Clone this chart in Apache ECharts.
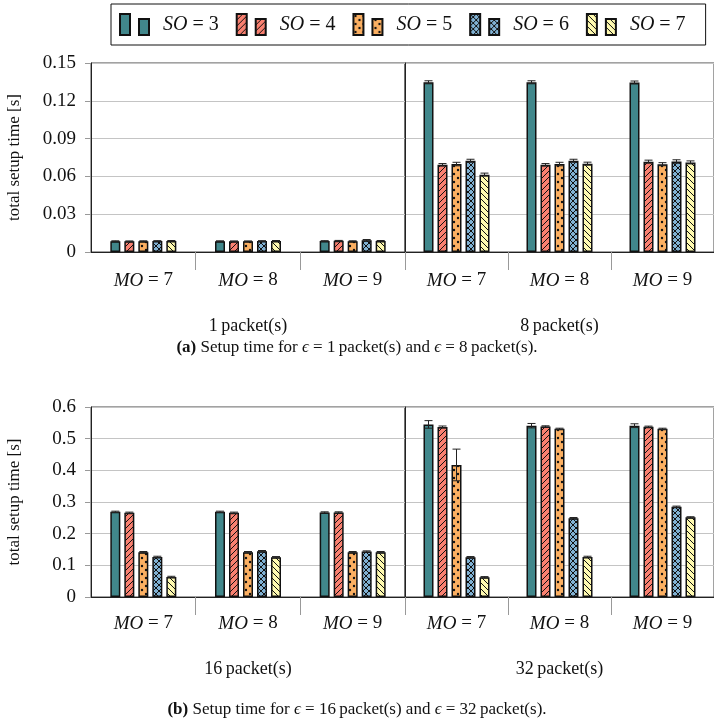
<!DOCTYPE html>
<html>
<head>
<meta charset="utf-8">
<script src="https://cdn.jsdelivr.net/npm/echarts@6/dist/echarts.min.js"></script>
<style>
  html, body { margin: 0; padding: 0; background: #fff; }
  #chart { width: 714px; height: 724px; }
</style>
</head>
<body>
<div id="chart"></div>
<script>
// categories
const moLabels = ['MO = 7', 'MO = 8', 'MO = 9']
const soNames = ['SO = 3', 'SO = 4', 'SO = 5', 'SO = 6', 'SO = 7']
const packetLabels = ['1\u2009packet(s)', '8\u2009packet(s)', '16\u2009packet(s)', '32\u2009packet(s)']

// setup time [s], one row per SO (3..7), columns MO = 7, 8, 9
const setup1 = [
  [0.0086, 0.0086, 0.0087],
  [0.0085, 0.0085, 0.0089],
  [0.0086, 0.0085, 0.0086],
  [0.0087, 0.0087, 0.0093],
  [0.0088, 0.0088, 0.0088]
]
const setup8 = [
  [0.1347, 0.1347, 0.1345],
  [0.0692, 0.0692, 0.0717],
  [0.0698, 0.0698, 0.0697],
  [0.0724, 0.0724, 0.0718],
  [0.0614, 0.0701, 0.0711]
]
const setup16 = [
  [0.269, 0.269, 0.267],
  [0.266, 0.266, 0.267],
  [0.1416, 0.1416, 0.1416],
  [0.1267, 0.1448, 0.1437],
  [0.0634, 0.1257, 0.1416]
]
const setup32 = [
  [0.545, 0.541, 0.541],
  [0.537, 0.5386, 0.5376],
  [0.417, 0.531, 0.531],
  [0.1257, 0.249, 0.285],
  [0.0624, 0.1267, 0.2515]
]

// error bar half widths
const err1 = [
  [0.0003, 0.0003, 0.0003],
  [0.0003, 0.0003, 0.0003],
  [0.0003, 0.0003, 0.0003],
  [0.0003, 0.0003, 0.0006],
  [0.0003, 0.0003, 0.0003]
]
const err8 = [
  [0.0012, 0.0012, 0.0012],
  [0.0010, 0.0010, 0.0012],
  [0.0014, 0.0014, 0.0012],
  [0.0012, 0.0012, 0.0014],
  [0.0012, 0.0012, 0.0012]
]
const err16 = [
  [0.002, 0.002, 0.002],
  [0.002, 0.002, 0.002],
  [0.002, 0.002, 0.002],
  [0.002, 0.002, 0.002],
  [0.002, 0.002, 0.002]
]
const err32 = [
  [0.012, 0.007, 0.006],
  [0.003, 0.002, 0.002],
  [0.05, 0.002, 0.002],
  [0.002, 0.002, 0.002],
  [0.002, 0.002, 0.002]
]

const colors = ['#41878b', '#f98070', '#fcb062', '#80b1d3', '#fffab0']
const hatches = ['none', 'ne', 'dots', 'cross', 'nw']

const serif = '"Liberation Serif", "DejaVu Serif", serif'
const BAR_W = 10
const BAR_GAP = 4

function makePattern (bg, kind) {
  if (kind === 'none') return bg
  const s = kind === 'dots' ? 8 : 6
  const c = document.createElement('canvas')
  c.width = s
  c.height = s
  const ctx = c.getContext('2d')
  ctx.fillStyle = bg
  ctx.fillRect(0, 0, s, s)
  ctx.strokeStyle = '#111'
  ctx.fillStyle = '#111'
  ctx.lineWidth = 1
  const line = (x1, y1, x2, y2) => {
    ctx.beginPath()
    ctx.moveTo(x1, y1)
    ctx.lineTo(x2, y2)
    ctx.stroke()
  }
  if (kind === 'ne' || kind === 'cross') {
    line(-1, s + 1, s + 1, -1)
  }
  if (kind === 'nw' || kind === 'cross') {
    line(-1, -1, s + 1, s + 1)
  }
  if (kind === 'dots') {
    ctx.beginPath(); ctx.arc(2, 2, 1.2, 0, Math.PI * 2); ctx.fill()
    ctx.beginPath(); ctx.arc(6, 6, 1.2, 0, Math.PI * 2); ctx.fill()
  }
  return { image: c, repeat: 'repeat' }
}

const panels = [
  { data: setup1, err: err1, label: packetLabels[0] },
  { data: setup8, err: err8, label: packetLabels[1] },
  { data: setup16, err: err16, label: packetLabels[2] },
  { data: setup32, err: err32, label: packetLabels[3] }
]

const chart = echarts.init(document.getElementById('chart'))

const grids = [
  { left: 91, top: 63, width: 314, height: 189 },
  { left: 405, top: 63, width: 314, height: 189 },
  { left: 91, top: 407, width: 314, height: 190 },
  { left: 405, top: 407, width: 314, height: 190 }
].map(g => Object.assign(g, { show: true, borderColor: '#444', borderWidth: 1 }))

const xAxes = panels.map((p, i) => ({
  type: 'category',
  gridIndex: i,
  data: moLabels,
  name: p.label,
  nameLocation: 'middle',
  nameGap: i < 2 ? 65 : 63,
  nameTextStyle: { fontFamily: serif, fontSize: 18, color: '#111' },
  axisLine: { lineStyle: { color: '#222', width: 1 } },
  axisTick: {
    show: true,
    length: 18,
    interval: (idx) => i % 2 === 1 || idx > 0,
    lineStyle: { color: '#999' }
  },
  axisLabel: {
    margin: i < 2 ? 19 : 17,
    interval: 0,
    formatter: v => '{i|MO} = ' + v.split('= ')[1],
    fontFamily: serif,
    fontSize: 19,
    color: '#111',
    rich: { i: { fontFamily: serif, fontSize: 19, fontStyle: 'italic', color: '#111' } }
  },
  splitLine: { show: false }
}))

const yAxes = panels.map((p, i) => {
  const top = i < 2
  const left = i % 2 === 0
  return {
    type: 'value',
    gridIndex: i,
    min: 0,
    max: top ? 0.15 : 0.6,
    interval: top ? 0.03 : 0.1,
    name: left ? 'total setup time [s]' : '',
    nameLocation: 'middle',
    nameGap: 68,
    nameTextStyle: { fontFamily: serif, fontSize: 17, color: '#111' },
    axisLine: { show: true, lineStyle: { color: '#222', width: 1 } },
    axisTick: { show: left, length: 6, lineStyle: { color: '#999' } },
    axisLabel: {
      show: left,
      margin: 15,
      fontFamily: serif,
      fontSize: 19,
      color: '#111'
    },
    splitLine: { show: true, lineStyle: { color: '#c4c4c4', width: 1 } }
  }
})

const series = []
panels.forEach((p, pi) => {
  soNames.forEach((name, si) => {
    series.push({
      name: name,
      type: 'bar',
      xAxisIndex: pi,
      yAxisIndex: pi,
      barWidth: BAR_W,
      barGap: (BAR_GAP / BAR_W * 100) + '%',
      itemStyle: {
        color: makePattern(colors[si], hatches[si]),
        borderColor: '#111',
        borderWidth: 1.5
      },
      data: p.data[si]
    })
  })
  soNames.forEach((name, si) => {
    const offset = (si - 2) * (BAR_W + BAR_GAP)
    series.push({
      name: 'err ' + name,
      type: 'custom',
      xAxisIndex: pi,
      yAxisIndex: pi,
      z: 10,
      data: p.data[si].map((v, k) => [k, v, p.err[si][k]]),
      encode: { x: 0, y: 1 },
      renderItem: (params, api) => {
        const k = api.value(0)
        const v = api.value(1)
        const e = api.value(2)
        const hi = api.coord([k, v + e])
        const lo = api.coord([k, v - e])
        const x = hi[0] + offset
        const cap = 4
        const st = { stroke: '#222', lineWidth: 1 }
        return {
          type: 'group',
          children: [
            { type: 'line', shape: { x1: x, y1: hi[1], x2: x, y2: lo[1] }, style: st },
            { type: 'line', shape: { x1: x - cap, y1: hi[1], x2: x + cap, y2: hi[1] }, style: st },
            { type: 'line', shape: { x1: x - cap, y1: lo[1], x2: x + cap, y2: lo[1] }, style: st }
          ]
        }
      }
    })
  })
})

const captionRich = {
  b: { fontFamily: serif, fontSize: 17, fontWeight: 'bold', color: '#111' },
  i: { fontFamily: serif, fontSize: 17, fontWeight: 'normal', fontStyle: 'italic', color: '#111' },
  t: { fontFamily: serif, fontSize: 17, fontWeight: 'normal', color: '#111' }
}

chart.setOption({
  animation: false,
  backgroundColor: '#fff',
  title: [
    {
      text: '{b|(a)}{t| Setup time for }{i|ϵ}{t| = 1\u2009packet(s) and }{i|ϵ}{t| = 8\u2009packet(s).}',
      left: 'center',
      top: 334,
      textStyle: { fontWeight: 'normal', rich: captionRich }
    },
    {
      text: '{b|(b)}{t| Setup time for }{i|ϵ}{t| = 16\u2009packet(s) and }{i|ϵ}{t| = 32\u2009packet(s).}',
      left: 'center',
      top: 696,
      textStyle: { fontWeight: 'normal', rich: captionRich }
    }
  ],
  legend: {
    data: soNames,
    left: 111,
    top: 4,
    padding: [9, 20, 9, 8],
    itemGap: 17,
    itemWidth: 29,
    itemHeight: 21,
    icon: 'path://M0,0h10v21h-10z M19,5h10v16h-10z',
    borderColor: '#111',
    borderWidth: 1,
    formatter: n => '{i|SO} = ' + n.split('= ')[1],
    textStyle: {
      fontFamily: serif,
      fontSize: 20,
      color: '#111',
      padding: [0, 0, 0, 9],
      rich: { i: { fontFamily: serif, fontSize: 20, fontStyle: 'italic', color: '#111' } }
    }
  },
  grid: grids,
  xAxis: xAxes,
  yAxis: yAxes,
  series: series
})
</script>
</body>
</html>
